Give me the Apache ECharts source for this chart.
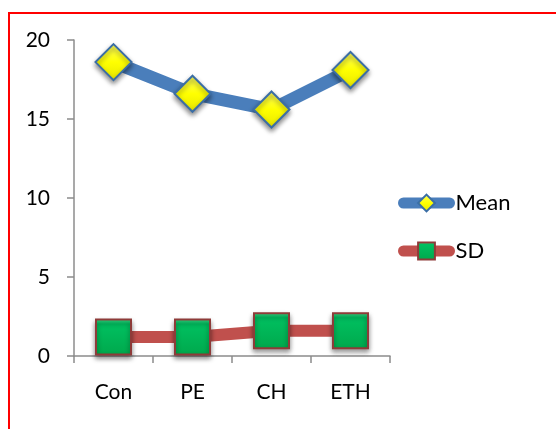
<!DOCTYPE html>
<html><head><meta charset="utf-8">
<script src="https://cdn.jsdelivr.net/npm/echarts@6/dist/echarts.min.js"></script>
<style>html,body{margin:0;padding:0;background:#fff;}#c{width:556px;height:429px;}
#frame{position:absolute;left:8px;top:12px;width:600px;height:500px;border:2px solid #ff0000;box-sizing:border-box;pointer-events:none;}</style>
</head><body>
<div id="c"></div><div id="frame"></div>
<script>
const categories = ['Con', 'PE', 'CH', 'ETH'];
const meanValues = [18.6, 16.6, 15.6, 18.1];
const sdValues = [1.2, 1.2, 1.6, 1.6];
const yTicks = [0, 5, 10, 15, 20];

const chart = echarts.init(document.getElementById('c'));
const font = 'Lato, "Open Sans", sans-serif';
chart.setOption({
  animation: false,
  grid: { left: 74, top: 40, right: 166, bottom: 73 },
  legend: {
    orient: 'vertical', left: 398, top: 192, itemGap: 26, padding: 0,
    itemWidth: 46, itemHeight: 21,
    lineStyle: { width: 11, cap: 'round' },
    textStyle: { fontFamily: font, fontSize: 22, color: '#000', padding: [0, 0, 0, 1] },
    data: ['Mean', 'SD']
  },
  xAxis: {
    type: 'category', data: categories, boundaryGap: true,
    axisLine: { lineStyle: { color: '#8c8c8c', width: 1.5 } },
    axisTick: { show: true, length: 7, lineStyle: { color: '#8c8c8c', width: 1.5 } },
    axisLabel: { color: '#000', fontFamily: font, fontSize: 21, margin: 26 }
  },
  yAxis: {
    type: 'value', min: yTicks[0], max: yTicks[yTicks.length - 1], interval: 5,
    axisLine: { show: true, lineStyle: { color: '#8c8c8c', width: 1.5 } },
    axisTick: { show: true, length: 7, lineStyle: { color: '#8c8c8c', width: 1.5 } },
    splitLine: { show: false },
    axisLabel: { color: '#000', fontFamily: font, fontSize: 21, margin: 24 }
  },
  series: [
    {
      name: 'Mean', type: 'line', data: meanValues,
      symbol: 'diamond', symbolSize: 36,
      lineStyle: { color: '#4a7ebb', width: 13 },
      itemStyle: {
        color: new echarts.graphic.LinearGradient(0, 0, 0, 1, [
          { offset: 0, color: '#ffff66' }, { offset: 0.5, color: '#ffff00' }, { offset: 1, color: '#e6e600' }
        ]),
        borderColor: '#3b6ea5', borderWidth: 2,
        shadowColor: 'rgba(0,0,0,0.45)', shadowBlur: 5, shadowOffsetY: 3
      },
      z: 3
    },
    {
      name: 'SD', type: 'line', data: sdValues,
      symbol: 'rect', symbolSize: 35,
      lineStyle: { color: '#c0504d', width: 12 },
      itemStyle: {
        color: new echarts.graphic.LinearGradient(0, 0, 0, 1, [
          { offset: 0, color: '#40e890' }, { offset: 0.15, color: '#00c060' }, { offset: 1, color: '#00a84c' }
        ]),
        borderColor: '#8e3b39', borderWidth: 2,
        shadowColor: 'rgba(0,0,0,0.45)', shadowBlur: 5, shadowOffsetY: 3
      },
      z: 2
    }
  ]
});
</script>
</body></html>
